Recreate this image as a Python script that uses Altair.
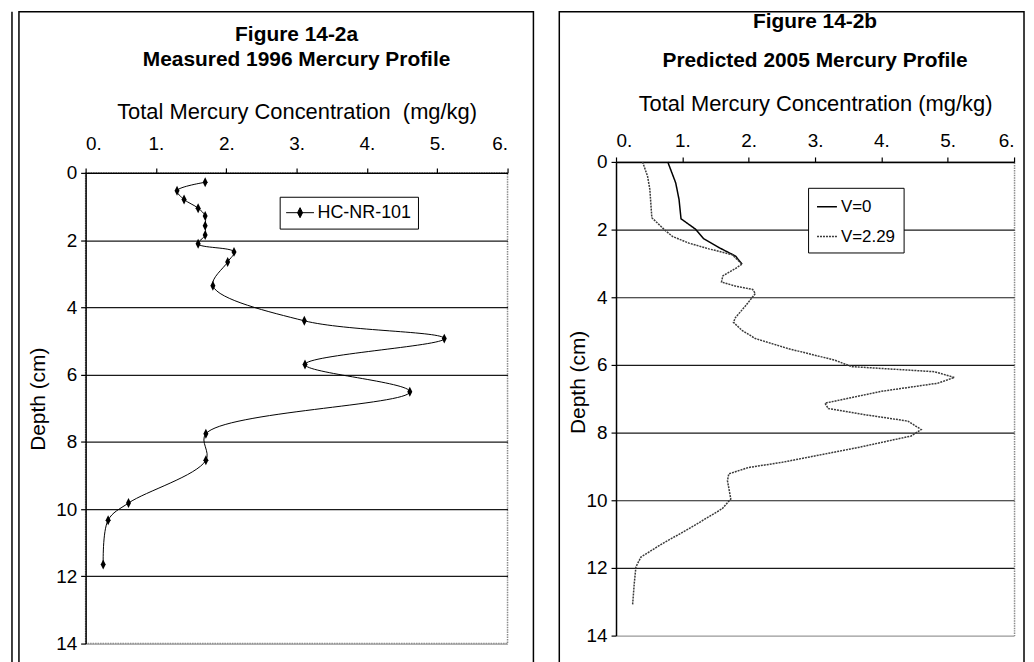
import altair as alt
import pandas as pd

FONT = "Liberation Sans"

# ---- Figure 14-2a : measured 1996 profile (HC-NR-101)
a_depth = [0.28, 0.53, 0.79, 1.05, 1.28, 1.57, 1.85, 2.11, 2.35, 2.65, 3.36, 4.40,
           4.93, 5.70, 6.51, 7.76, 8.55, 9.82, 10.33, 11.65]
a_conc = [1.70, 1.30, 1.40, 1.60, 1.70, 1.70, 1.70, 1.60, 2.11, 2.02, 1.81, 3.11,
          5.10, 3.12, 4.61, 1.71, 1.71, 0.61, 0.32, 0.25]
a_series = "HC-NR-101"

# ---- Figure 14-2b : predicted 2005 profiles
v0_depth = [0.0, 0.62, 1.11, 1.68, 1.99, 2.27, 2.53, 2.78, 3.02]
v0_conc = [0.78, 0.90, 0.95, 0.98, 1.20, 1.32, 1.55, 1.80, 1.90]

v2_depth = [0.0, 0.42, 0.81, 1.65, 2.04, 2.20, 2.40, 2.57, 2.74, 3.02, 3.15, 3.37,
            3.55, 3.67, 3.77, 3.89, 4.26, 4.60, 4.74, 4.98, 5.22, 5.52, 5.86, 6.05,
            6.20, 6.37, 6.54, 6.78, 7.13, 7.29, 7.47, 7.66, 7.91, 8.10, 8.44, 8.88,
            9.03, 9.22, 9.42, 9.96, 10.25, 10.84, 11.28, 11.68, 11.97, 12.46, 13.09]
v2_conc = [0.40, 0.475, 0.51, 0.54, 0.75, 0.85, 1.10, 1.40, 1.75, 1.90, 1.80, 1.61,
           1.59, 1.80, 2.06, 2.10, 1.95, 1.80, 1.77, 1.90, 2.10, 2.60, 3.30, 3.55,
           4.80, 5.10, 4.85, 4.00, 3.15, 3.20, 3.75, 4.40, 4.60, 4.45, 3.65, 2.50,
           2.00, 1.70, 1.68, 1.73, 1.60, 1.10, 0.70, 0.375, 0.30, 0.275, 0.25]
series_b = ["V=0", "V=2.29"]

x_ticks = [0, 1, 2, 3, 4, 5, 6]
y_ticks = [0, 2, 4, 6, 8, 10, 12, 14]

DIAMOND = "M0,-1L0.5,0L0,1L-0.5,0Z"
LEG_SYM = "M-1,0L1,0M0,-0.36L0.18,0L0,0.36L-0.18,0Z"

df_a = pd.DataFrame({"conc": a_conc, "depth": a_depth,
                     "series": a_series, "idx": range(len(a_conc))})
df_b = pd.concat([
    pd.DataFrame({"conc": v0_conc, "depth": v0_depth, "series": series_b[0],
                  "idx": range(len(v0_conc))}),
    pd.DataFrame({"conc": v2_conc, "depth": v2_depth, "series": series_b[1],
                  "idx": range(len(v2_conc))}),
])
one = pd.DataFrame({"k": [0]})

grid_color = alt.condition("datum.value == 14", alt.value("#999999"), alt.value("#1a1a1a"))
edge_opacity = alt.condition("datum.value == 6", alt.value(1), alt.value(0))


def x_enc(title, label_pad, title_pad, offset=0, edge=False):
    extra = {}
    if edge:
        extra = dict(grid=True, gridOpacity=edge_opacity, gridColor="#8a8a8a",
                     gridDash=[1.5, 1], gridWidth=1.5)
    else:
        extra = dict(grid=False)
    return alt.X("conc:Q", scale=alt.Scale(domain=[0, 6], nice=False, zero=False),
                 axis=alt.Axis(orient="top", values=x_ticks, labelExpr="datum.value + '.'",
                               title=title, offset=offset,
                               tickSize=5, labelPadding=label_pad, labelFontSize=19,
                               titleFontSize=22, titleFontWeight="normal",
                               titlePadding=title_pad, **extra))


def y_enc(scale, label_pad, title_x, title_y):
    return alt.Y("depth:Q", scale=scale,
                 axis=alt.Axis(values=y_ticks, grid=True, gridColor=grid_color,
                               gridWidth=1.2, tickSize=5, labelPadding=label_pad,
                               labelFontSize=19, title="Depth (cm)", titleFontSize=21,
                               titleFontWeight="normal", titleX=title_x,
                               titleY=title_y))


# ---------------- left panel
frame_a = alt.Chart(one).mark_rect(filled=False, stroke="black", strokeWidth=1.5).encode(
    x=alt.value(-67), x2=alt.value(450), y=alt.value(-162), y2=alt.value(520))
edge_a = alt.Chart(one).mark_rule(stroke="black", strokeWidth=1.5).encode(
    x=alt.value(-74), y=alt.value(-162), y2=alt.value(520))

xa = x_enc("Total Mercury Concentration\u00a0 (mg/kg)", 14, 12)
ya = y_enc(alt.Scale(domain=[0, 14], reverse=True, nice=False), 4, -37, 227)
line_a = alt.Chart(df_a).mark_line(color="black", strokeWidth=1,
                                   interpolate="catmull-rom").encode(
    x=xa, y=ya, order="idx:Q")
pts_a = alt.Chart(df_a).mark_point(shape=DIAMOND, filled=True, size=100, opacity=1).encode(
    x=xa, y=ya,
    color=alt.Color("series:N", scale=alt.Scale(domain=[a_series], range=["black"]),
                    legend=alt.Legend(title=None, orient="none", legendX=195, legendY=24,
                                      symbolType=LEG_SYM, symbolSize=784,
                                      symbolFillColor="black", symbolStrokeColor="black",
                                      symbolStrokeWidth=1, labelFontSize=18,
                                      labelOffset=3, padding=6, clipHeight=20,
                                      strokeColor="black", fillColor="white")))

left = alt.layer(frame_a, edge_a, line_a, pts_a).properties(
    width=424, height=473,
    title=alt.TitleParams(text="Figure 14-2a", subtitle="Measured 1996 Mercury Profile",
                          fontSize=21, subtitleFontSize=21, subtitleFontWeight="bold",
                          subtitleColor="black", anchor="middle", frame="group",
                          subtitlePadding=4, offset=-59))

# ---------------- right panel (plot area sits 11px higher than the left one)
frame_b = alt.Chart(one).mark_rect(filled=False, stroke="black", strokeWidth=1.5).encode(
    x=alt.value(-57), x2=alt.value(410), y=alt.value(-162), y2=alt.value(520))

xb = x_enc("Total Mercury Concentration (mg/kg)", 6, 17, offset=11, edge=True)
yb = y_enc(alt.Scale(domain=[0, 14], range=[-11, 465], nice=False), 4, -28, 210)
lines_b = alt.Chart(df_b).mark_line(strokeWidth=1.5).encode(
    x=xb, y=yb, order="idx:Q",
    color=alt.Color("series:N", scale=alt.Scale(domain=series_b, range=["black", "#3a3a3a"]),
                    legend=alt.Legend(title=None, orient="none", legendX=193, legendY=15,
                                      symbolType="stroke", symbolSize=400,
                                      symbolStrokeWidth=1.4, labelFontSize=17,
                                      labelOffset=3, padding=8, rowPadding=11,
                                      strokeColor="black", fillColor="white")),
    strokeDash=alt.StrokeDash("series:N",
                              scale=alt.Scale(domain=series_b, range=[[1, 0], [2, 1]]),
                              legend=None))

right = alt.layer(frame_b, lines_b).properties(
    width=400, height=465,
    view=alt.ViewBackground(stroke="transparent"),
    title=alt.TitleParams(text="Figure 14-2b", subtitle="Predicted 2005 Mercury Profile",
                          fontSize=21, subtitleFontSize=21, subtitleFontWeight="bold",
                          subtitleColor="black", anchor="middle", frame="group",
                          subtitlePadding=18, offset=-60))

chart = alt.concat(left, right, columns=2, spacing=22).resolve_scale(
    color="independent", strokeDash="independent").properties(
    padding={"left": 2, "top": 0, "right": 0, "bottom": 0}
).configure(font=FONT, background="white").configure_view(
    stroke="#8a8a8a", strokeDash=[1.5, 1], strokeWidth=1.5
).configure_axis(
    domainColor="black", domainWidth=1.5, tickColor="black", tickWidth=1.2,
    labelColor="black", titleColor="black", labelFont=FONT, titleFont=FONT
).configure_title(font=FONT, subtitleFont=FONT, color="black", fontWeight="bold"
).configure_legend(labelFont=FONT, labelColor="black")

chart.save("out.html", embed_options={"renderer": "svg", "actions": False})
